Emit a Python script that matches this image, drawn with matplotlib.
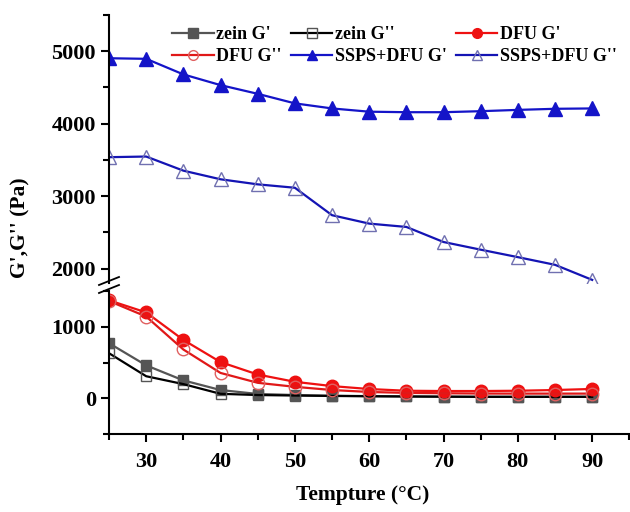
import matplotlib
matplotlib.use("Agg")
import matplotlib.pyplot as plt
from matplotlib.ticker import MultipleLocator

plt.rcParams['font.family'] = ['Liberation Serif', 'DejaVu Serif']
plt.rcParams['font.weight'] = 'bold'

temp = [25, 30, 35, 40, 45, 50, 55, 60, 65, 70, 75, 80, 85, 90]
zein_g1 = [770, 460, 250, 115, 60, 45, 35, 30, 25, 22, 20, 20, 20, 20]
zein_g2 = [630, 308, 198, 62, 45, 38, 32, 28, 25, 22, 20, 20, 20, 20]
dfu_g1 = [1370, 1200, 816, 506, 332, 230, 170, 129, 105, 101, 101, 105, 115, 130]
dfu_g2 = [1360, 1143, 682, 354, 216, 160, 115, 88, 75, 70, 66, 65, 65, 65]
ssps_g1 = [4903, 4895, 4680, 4532, 4412, 4280, 4210, 4165, 4158, 4158, 4172, 4190, 4205, 4210]
ssps_g2 = [3537, 3546, 3351, 3232, 3162, 3115, 2736, 2620, 2574, 2366, 2260, 2157, 2051, 1843]

fig = plt.figure(figsize=(6.3, 5.12), dpi=100)
left, right = 109/630, 0.999
ax_top = fig.add_axes([left, 1-283/512, right-left, (283-15)/512])
ax_bot = fig.add_axes([left, 1-434/512, right-left, (434-291)/512])

series = [
    ("zein G'", zein_g1, dict(color='#555555', marker='s', ms=7.5, mfc='#555555', mec='#555555')),
    ("zein G''", zein_g2, dict(color='#000000', marker='s', ms=7.5, mfc='none', mec='#555555', mew=1.0)),
    ("DFU G'", dfu_g1, dict(color='#ee1111', marker='o', ms=9, mfc='#ee1111', mec='#ee1111')),
    ("DFU G''", dfu_g2, dict(color='#e01818', marker='o', ms=9, mfc='none', mec='#e06060', mew=1.0)),
    ("SSPS+DFU G'", ssps_g1, dict(color='#1414c8', marker='^', ms=10, mfc='#1414c8', mec='#1414c8')),
    ("SSPS+DFU G''", ssps_g2, dict(color='#1414b4', marker='^', ms=9.5, mfc='none', mec='#7070b0', mew=1.0)),
]

handles = []
for name, vals, st in series:
    for ax in (ax_top, ax_bot):
        h, = ax.plot(temp, vals, lw=1.6, label=name, **st)
    handles.append(h)

for ax in (ax_top, ax_bot):
    ax.set_xlim(25, 95)
    ax.spines['top'].set_visible(False)
    ax.spines['right'].set_visible(False)
    ax.spines['left'].set_linewidth(1.5)
    ax.spines['bottom'].set_linewidth(1.5)
    ax.tick_params(axis='both', which='major', direction='out', length=6, width=1.5, labelsize=16)
    ax.tick_params(axis='both', which='minor', direction='out', length=4, width=1.5)
    ax.tick_params(axis='x', which='major', pad=7)
    ax.patch.set_alpha(0)

ax_top.set_ylim(1800, 5500)
ax_top.yaxis.set_major_locator(MultipleLocator(1000))
ax_top.yaxis.set_minor_locator(MultipleLocator(500))
ax_top.spines['bottom'].set_visible(False)
ax_top.tick_params(axis='x', which='both', bottom=False, labelbottom=False)

ax_bot.set_ylim(-500, 1500)
ax_bot.yaxis.set_major_locator(MultipleLocator(1000))
ax_bot.yaxis.set_minor_locator(MultipleLocator(500))
ax_bot.xaxis.set_major_locator(MultipleLocator(10))
ax_bot.xaxis.set_minor_locator(MultipleLocator(5))
ax_bot.set_xticks([30, 40, 50, 60, 70, 80, 90])

for lab in ax_top.get_yticklabels() + ax_bot.get_yticklabels() + ax_bot.get_xticklabels():
    lab.set_fontweight('bold')

# break marks
x0 = 109/630
for yb in (281, 289):
    y = 1 - yb/512
    fig.add_artist(plt.Line2D([x0-10/630, x0+10/630], [y-4/512, y+4/512], color='black', lw=1.3))

fig.text(20/630, 1-228/512, "G',G'' (Pa)", rotation=90, ha='center', va='center', fontsize=15.5, fontweight='bold')
fig.text(363/630, 1-495/512, "Tempture (°C)", ha='center', va='center', fontsize=15.5, fontweight='bold')

order = [0, 3, 1, 4, 2, 5]
leg = fig.legend(handles=[handles[i] for i in order], ncol=3, frameon=False, loc='upper left',
                 bbox_to_anchor=(163/630, 1-17/512), bbox_transform=fig.transFigure,
                 borderpad=0, handlelength=2.3,
                 handletextpad=0.15, columnspacing=0.5, labelspacing=0.3,
                 prop={'weight': 'bold', 'size': 13})
for lh in leg.legend_handles:
    lh.set_markersize(7)

fig.savefig("out.png", dpi=100)
